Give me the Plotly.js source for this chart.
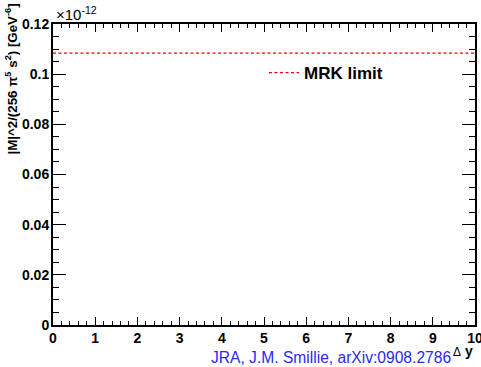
<!DOCTYPE html>
<html>
<head>
<meta charset="utf-8">
<script src="https://cdn.plot.ly/plotly-3.0.1.min.js"></script>
<style>html,body{margin:0;padding:0;background:#fff;}#chart{width:481px;height:367px;}</style>
</head>
<body>
<div id="chart"></div>
<script>
// Data (y values in units of 1e-12 GeV^-6, as shown on the axis)
const deltaY = [0, 10];
const mrkLimit = [0.1084, 0.1084];
const seriesName = 'MRK limit';
const xTickVals = [0, 1, 2, 3, 4, 5, 6, 7, 8, 9, 10];
const yTickVals = [0, 0.02, 0.04, 0.06, 0.08, 0.1, 0.12];
const yTickText = ['0', '0.02', '0.04', '0.06', '0.08', '0.1', '0.12'];

const FONT = 'Liberation Sans, Arial, Helvetica, sans-serif';
const L = 53, R = 6, T = 24, B = 42;
const W = 481, H = 367;
const pw = W - L - R, ph = H - T - B;
const px = v => (v - L) / pw;          // pixel x -> paper
const py = v => (H - B - v) / ph;      // pixel y -> paper

const trace = {
  x: deltaY, y: mrkLimit, mode: 'lines', name: seriesName,
  line: {color: '#ff0000', width: 1.2, dash: '3px,2.5px'},
  showlegend: true
};

const layout = {
  width: W, height: H,
  margin: {l: L, r: R, t: T, b: B, pad: 0},
  paper_bgcolor: '#ffffff', plot_bgcolor: '#ffffff',
  font: {family: FONT, color: '#000'},
  showlegend: true,
  legend: {
    x: px(264), y: py(73), xanchor: 'left', yanchor: 'middle',
    bgcolor: 'rgba(0,0,0,0)', borderwidth: 0,
    font: {family: FONT, size: 17, weight: 'bold', color: '#000'}
  },
  xaxis: {
    range: [0, 10], tickvals: xTickVals, ticktext: xTickVals.map(String),
    ticks: 'inside', ticklen: 8, tickwidth: 1, tickcolor: '#000',
    showline: true, linecolor: '#000', linewidth: 2, mirror: 'allticks',
    showgrid: false, zeroline: false,
    tickfont: {family: FONT, size: 14, weight: 'bold', color: '#000'},
    ticklabelstandoff: -1, ticklabeloverflow: 'allow',
    minor: {dtick: 0.2, ticks: 'inside', ticklen: 4, tickwidth: 1, tickcolor: '#000', showgrid: false}
  },
  yaxis: {
    range: [0, 0.12], tickvals: yTickVals, ticktext: yTickText,
    ticks: 'inside', ticklen: 13, tickwidth: 1, tickcolor: '#000',
    showline: true, linecolor: '#000', linewidth: 2, mirror: 'allticks',
    showgrid: false, zeroline: false,
    tickfont: {family: FONT, size: 14, weight: 'bold', color: '#000'},
    ticklabelstandoff: -1, ticklabeloverflow: 'allow',
    minor: {dtick: 0.005, ticks: 'inside', ticklen: 6, tickwidth: 1, tickcolor: '#000', showgrid: false}
  },
  annotations: [
    {xref: 'paper', yref: 'paper', x: px(54), y: py(13), xanchor: 'left', yanchor: 'middle',
     text: '×10<sup>-12</sup>', showarrow: false,
     font: {family: FONT, size: 15, color: '#000'}},
    {xref: 'paper', yref: 'paper', x: px(12), y: py(2), xanchor: 'center', yanchor: 'top',
     textangle: -90, showarrow: false,
     text: '|M|^2/(256 π<sup>5</sup> s<sup>2</sup>) [GeV<sup>-6</sup>]',
     font: {family: FONT, size: 13.3, weight: 'bold', color: '#000'}},
    {xref: 'paper', yref: 'paper', x: px(475), y: py(351), xanchor: 'right', yanchor: 'middle',
     text: '<span style="font-size:12px">Δ</span> <b>y</b>', showarrow: false,
     font: {family: FONT, size: 14, color: '#000'}},
    {xref: 'paper', yref: 'paper', x: px(453), y: py(357.5), xanchor: 'right', yanchor: 'middle',
     text: 'JRA, J.M. Smillie, arXiv:0908.2786', showarrow: false,
     font: {family: FONT, size: 15.6, color: '#2a2af5'}}
  ]
};

Plotly.newPlot('chart', [trace], layout, {displayModeBar: false, staticPlot: true});
</script>
</body>
</html>
